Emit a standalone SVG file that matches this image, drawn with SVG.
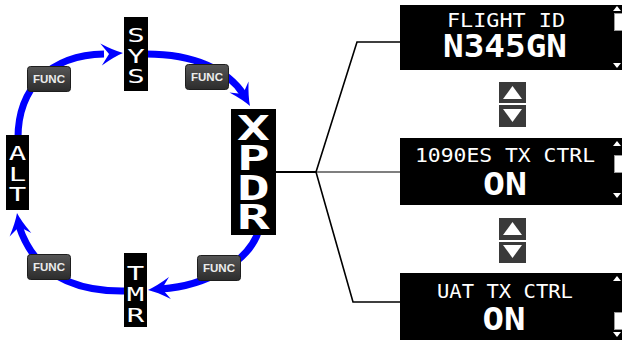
<svg xmlns="http://www.w3.org/2000/svg" width="622" height="340" viewBox="0 0 622 340">
  <defs>
    <linearGradient id="funcFill" x1="0" y1="0" x2="0" y2="1">
      <stop offset="0" stop-color="#565656"/>
      <stop offset="1" stop-color="#2c2c2c"/>
    </linearGradient>
    <!-- swept arrowhead, tip at origin pointing along +x -->
    <path id="head" d="M0,0 Q-9,-3 -22,-11 L-14,0 L-22,11 Q-9,3 0,0 Z"/>
    <g id="funcBtn">
      <rect x="0.5" y="0.5" width="43" height="25" rx="3" fill="url(#funcFill)" stroke="#1e1e1e"/>
      <text x="22" y="17" class="func">FUNC</text>
    </g>
  </defs>
  <style>
    .ring { fill: none; stroke: #0000ff; stroke-width: 7; }
    .tip { fill: #0000ff; }
    .wire { fill: none; stroke: #000; stroke-width: 1.6; }
    .func { font-family: "Liberation Sans", Arial, sans-serif; font-weight: bold; font-size: 11.5px; fill: #ececec; text-anchor: middle; }
    .mode { font-family: "DejaVu Sans Mono", "Liberation Mono", monospace; font-size: 20px; fill: #fff; text-anchor: middle; }
    .mode-big { font-family: "DejaVu Sans Mono", "Liberation Mono", monospace; font-weight: bold; font-size: 34px; fill: #fff; text-anchor: middle; }
    .lcd { font-family: "DejaVu Sans Mono", "Liberation Mono", monospace; font-size: 19px; fill: #fff; text-anchor: middle; }
    .lcd-val { font-family: "DejaVu Sans Mono", "Liberation Mono", monospace; font-weight: bold; font-size: 32px; fill: #fff; text-anchor: middle; }
    .scroll { fill: #fff; }
    .thumb { fill: #fff; stroke: #9a9a9a; stroke-width: 1; }
    .key { fill: #3a3a3a; }
  </style>

  <rect width="622" height="340" fill="#fff"/>

  <!-- mode cycle arrows -->
  <g id="connectors">
    <path class="ring" d="M18,138 C18,88 50,55 104,54"/>
    <use href="#head" class="tip" transform="translate(123,53) rotate(-4)"/>
    <path class="ring" d="M146,54 C195,54 228,70 244,95"/>
    <use href="#head" class="tip" transform="translate(250,106) rotate(60)"/>
    <path class="ring" d="M260,226 C252,262 205,286 161,289"/>
    <use href="#head" class="tip" transform="translate(148,290) rotate(175)"/>
    <path class="ring" d="M126,291 C75,292 35,275 19,226"/>
    <use href="#head" class="tip" transform="translate(17,213) rotate(-99)"/>

    <!-- XPDR fan-out to its pages -->
    <line x1="276" y1="172" x2="316" y2="172" stroke="#000" stroke-width="2"/>
    <polyline class="wire" points="400,42 357,42 316,172 353,302 400,302"/>
    <line x1="316" y1="172" x2="400" y2="172" stroke="#000" stroke-width="1.2"/>
  </g>

  <!-- FUNC key labels on the arrows -->
  <g id="func-labels">
    <use href="#funcBtn" transform="translate(27,66)"/>
    <use href="#funcBtn" transform="translate(185,64)"/>
    <use href="#funcBtn" transform="translate(197,255)"/>
    <use href="#funcBtn" transform="translate(27,254)"/>
  </g>

  <!-- mode labels are stacked one letter per line -->
  <g id="node-sys">
    <rect x="124" y="17" width="24" height="74" fill="#000"/>
    <text class="mode" transform="translate(136,0) scale(1.45,1)"><tspan x="0" y="42">S</tspan><tspan x="0" y="63">Y</tspan><tspan x="0" y="83">S</tspan></text>
  </g>

  <g id="node-xpdr">
    <rect x="231" y="109" width="45" height="126" fill="#000"/>
    <text class="mode-big" transform="translate(253.5,0) scale(1.6,1)"><tspan x="0" y="140">X</tspan><tspan x="0" y="170">P</tspan><tspan x="0" y="200">D</tspan><tspan x="0" y="229">R</tspan></text>
  </g>

  <g id="node-tmr">
    <rect x="124" y="253" width="23" height="74" fill="#000"/>
    <text class="mode" transform="translate(135.5,0) scale(1.45,1)"><tspan x="0" y="280">T</tspan><tspan x="0" y="301">M</tspan><tspan x="0" y="322">R</tspan></text>
  </g>

  <g id="node-alt">
    <rect x="6" y="135" width="23" height="75" fill="#000"/>
    <text class="mode" transform="translate(17.5,0) scale(1.45,1)"><tspan x="0" y="160">A</tspan><tspan x="0" y="181">L</tspan><tspan x="0" y="201">T</tspan></text>
  </g>

  <!-- XPDR pages -->
  <g id="page-flight-id">
    <rect x="400" y="5" width="222" height="65" fill="#000"/>
    <text class="lcd" x="506" y="27" textLength="118" lengthAdjust="spacingAndGlyphs">FLIGHT ID</text>
    <text class="lcd-val" x="505" y="57" textLength="124" lengthAdjust="spacingAndGlyphs">N345GN</text>
    <polygon class="scroll" points="617,6 621,11 613,11"/>
    <rect class="thumb" x="614.5" y="13.5" width="8" height="17"/>
    <polygon class="scroll" points="613,63 621,63 617,68"/>
  </g>

  <g id="page-1090es">
    <rect x="400" y="138" width="222" height="67" fill="#000"/>
    <text class="lcd" x="505" y="162" textLength="180" lengthAdjust="spacingAndGlyphs">1090ES TX CTRL</text>
    <text class="lcd-val" x="505" y="195" textLength="44" lengthAdjust="spacingAndGlyphs">ON</text>
    <polygon class="scroll" points="617,141 621,146 613,146"/>
    <rect class="thumb" x="614.5" y="155.5" width="8" height="17"/>
    <polygon class="scroll" points="613,193 621,193 617,198"/>
  </g>

  <g id="page-uat">
    <rect x="400" y="273" width="222" height="67" fill="#000"/>
    <text class="lcd" x="505" y="298" textLength="136" lengthAdjust="spacingAndGlyphs">UAT TX CTRL</text>
    <text class="lcd-val" x="504" y="330" textLength="43" lengthAdjust="spacingAndGlyphs">ON</text>
    <polygon class="scroll" points="617,276 621,281 613,281"/>
    <rect class="thumb" x="614.5" y="312.5" width="8" height="17"/>
    <polygon class="scroll" points="613,332 621,332 617,337"/>
  </g>

  <!-- page step keys -->
  <g id="keys-upper">
    <rect class="key" x="499" y="82" width="27" height="21"/>
    <polygon fill="#fff" points="512.5,86 522,99 503,99"/>
    <rect class="key" x="499" y="105" width="27" height="22"/>
    <polygon fill="#fff" points="503,109 522,109 512.5,122"/>
  </g>
  <g id="keys-lower">
    <rect class="key" x="499" y="218" width="27" height="22"/>
    <polygon fill="#fff" points="512.5,222 522,235 503,235"/>
    <rect class="key" x="499" y="242" width="27" height="21"/>
    <polygon fill="#fff" points="503,245 522,245 512.5,258"/>
  </g>
</svg>
